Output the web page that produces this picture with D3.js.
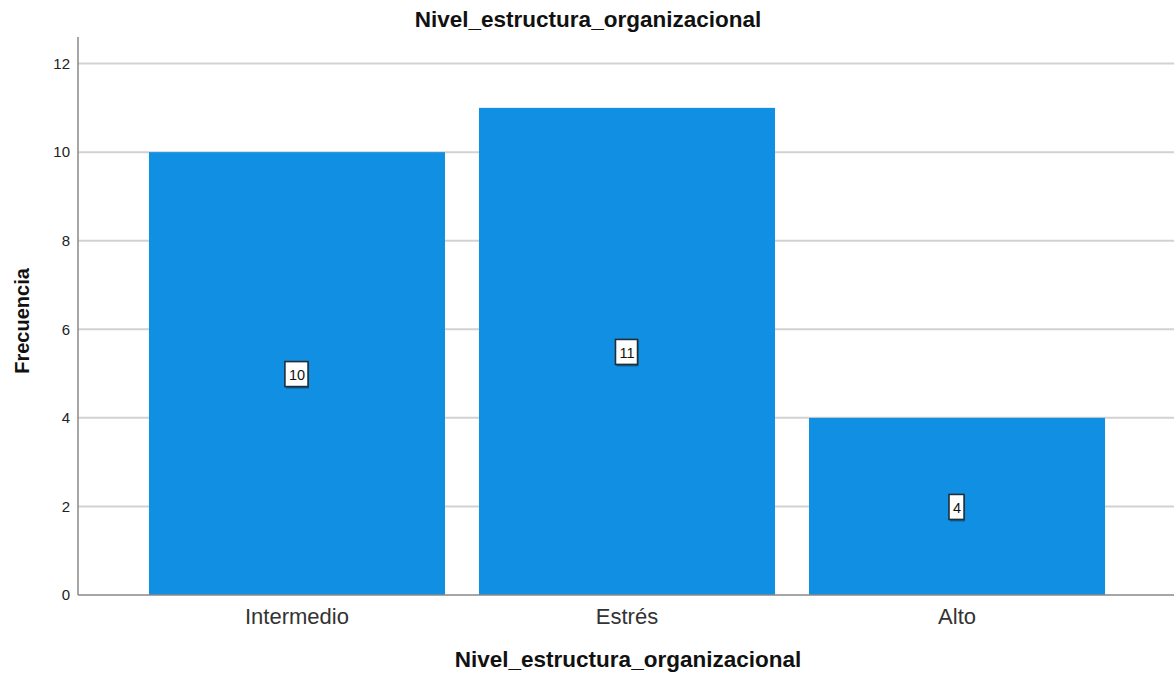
<!DOCTYPE html>
<html>
<head>
<meta charset="utf-8">
<script src="https://cdn.jsdelivr.net/npm/d3@7"></script>
<style>
  html, body { margin: 0; padding: 0; background: #fff; }
  svg { display: block; font-family: "Liberation Sans", Arial, sans-serif; }
</style>
</head>
<body>
<svg id="chart" width="1174" height="680"></svg>
<script>
// Frequency counts per level
const categories = ["Intermedio", "Estrés", "Alto"];
const values = [10, 11, 4];
const yTicks = [0, 2, 4, 6, 8, 10, 12];
const chartTitle = "Nivel_estructura_organizacional";
const xTitle = "Nivel_estructura_organizacional";
const yTitle = "Frecuencia";

const svg = d3.select("#chart");
const plot = { left: 78, right: 1174, top: 37, bottom: 595 };

const x = d3.scaleBand()
  .domain(categories)
  .range([plot.left + 1, plot.right + 1])
  .paddingInner(0.103)
  .paddingOuter(0.212);

const y = d3.scaleLinear()
  .domain([0, 12.6])
  .range([plot.bottom, plot.top]);

// Horizontal gridlines
svg.append("g")
  .selectAll("line")
  .data(yTicks.filter(d => d > 0))
  .join("line")
  .attr("x1", plot.left)
  .attr("x2", plot.right)
  .attr("y1", d => y(d))
  .attr("y2", d => y(d))
  .attr("stroke", "#d2d2d2")
  .attr("stroke-width", 2);

// Bars
svg.append("g")
  .selectAll("rect")
  .data(values)
  .join("rect")
  .attr("x", (d, i) => x(categories[i]))
  .attr("width", x.bandwidth())
  .attr("y", d => y(d))
  .attr("height", d => y(0) - y(d))
  .attr("fill", "#1190e3");

// Y axis
const yAxis = d3.axisLeft(y).tickValues(yTicks).tickSize(0).tickPadding(8).tickFormat(d3.format("d"));
const yg = svg.append("g")
  .attr("transform", `translate(${plot.left},0)`)
  .call(yAxis);
yg.select(".domain").remove();
yg.selectAll("text")
  .attr("font-size", 15)
  .attr("fill", "#222")
  .attr("font-family", "Liberation Sans, Arial, sans-serif");

// Axis lines
svg.append("line")
  .attr("x1", plot.left).attr("x2", plot.left)
  .attr("y1", plot.top).attr("y2", plot.bottom)
  .attr("stroke", "#888").attr("stroke-width", 1.5);
svg.append("line")
  .attr("x1", plot.left).attr("x2", plot.right)
  .attr("y1", plot.bottom).attr("y2", plot.bottom)
  .attr("stroke", "#888").attr("stroke-width", 1.5);

// X axis category labels
const xAxis = d3.axisBottom(x).tickSize(0).tickPadding(13);
const xg = svg.append("g")
  .attr("transform", `translate(0,${plot.bottom})`)
  .call(xAxis);
xg.select(".domain").remove();
xg.selectAll("text")
  .attr("font-size", 22)
  .attr("fill", "#333")
  .attr("font-family", "Liberation Sans, Arial, sans-serif");

// Value labels in boxes at bar middles
const lbl = svg.append("g")
  .selectAll("g")
  .data(values)
  .join("g")
  .attr("transform", (d, i) => `translate(${x(categories[i]) + x.bandwidth() / 2},${(y(d) + y(0)) / 2 + 1})`);
lbl.append("text")
  .attr("text-anchor", "middle")
  .attr("dy", "0.36em")
  .attr("font-size", 14.5)
  .attr("fill", "#111")
  .text(d => d)
  .each(function () {
    const b = this.getBBox();
    const g = d3.select(this.parentNode);
    g.insert("rect", "text")
      .attr("x", b.x - 3)
      .attr("y", -12)
      .attr("width", b.width + 7)
      .attr("height", 26)
      .attr("fill", "#0b3d5e")
      .attr("opacity", 0.6);
    g.insert("rect", "text")
      .attr("x", b.x - 4)
      .attr("y", -13)
      .attr("width", b.width + 7)
      .attr("height", 25)
      .attr("fill", "#fff")
      .attr("stroke", "#1f2f3a")
      .attr("stroke-width", 1.6);
  });

// Titles
svg.append("text")
  .attr("x", 588).attr("y", 27)
  .attr("text-anchor", "middle")
  .attr("font-size", 22.5).attr("font-weight", "bold").attr("fill", "#111")
  .text(chartTitle);

svg.append("text")
  .attr("x", 628).attr("y", 667)
  .attr("text-anchor", "middle")
  .attr("font-size", 22.5).attr("font-weight", "bold").attr("fill", "#111")
  .text(xTitle);

svg.append("text")
  .attr("transform", "translate(29,321) rotate(-90)")
  .attr("text-anchor", "middle")
  .attr("font-size", 20).attr("font-weight", "bold").attr("fill", "#111")
  .text(yTitle);
</script>
</body>
</html>
